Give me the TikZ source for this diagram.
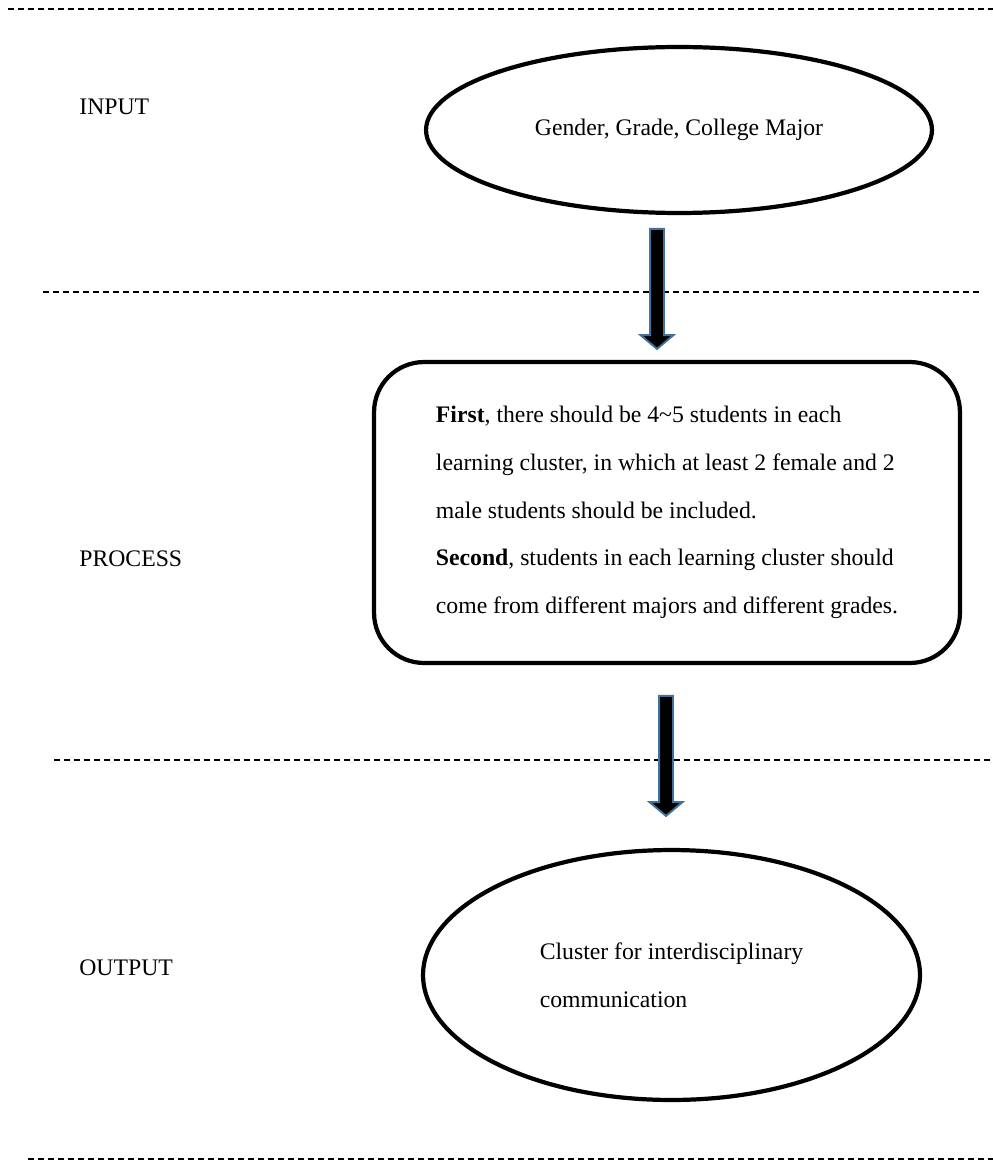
\documentclass[tikz,border=0pt]{standalone}
\usepackage{fontspec}
\setmainfont{Liberation Serif}
\usetikzlibrary{shapes.geometric, shapes.arrows}

\begin{document}
\begin{tikzpicture}[x=0.02cm,y=-0.02cm]
						\tikzstyle{oval} = [ellipse,draw=black,line width=2.4pt,fill=white,align=left,font=\fontsize{13.5}{27.2}\selectfont]
						\tikzstyle{procbox} = [rectangle,rounded corners=1cm,draw=black,line width=2.4pt,fill=white,align=left,font=\fontsize{13.5}{27.2}\selectfont]
						\tikzstyle{label} = [anchor=west,inner sep=0pt,font=\fontsize{13.5}{16}\selectfont]
						\tikzstyle{sep} = [line width=1.1pt,dash pattern=on 0.12cm off 0.08cm]
						\tikzstyle{blockarrow} = [single arrow,fill=black,draw={rgb,255:red,65;green,113;blue,156},line width=1.1pt,shape border rotate=270,single arrow head extend=0.19cm,inner sep=0.12cm,single arrow tip angle=100]
						\useasboundingbox (0,0) rectangle (993,1162);
						\draw[sep] (8,9)--(993,9);
						\draw[sep] (43,292)--(982,292);
						\draw[sep] (54,760)--(993,760);
						\draw[sep] (28,1159)--(993,1159);
						\node[label] (in) at (79,107) {INPUT};
						\node[label] (proc) at (79,559) {PROCESS};
						\node[label] (out) at (79,968) {OUTPUT};
						\node[oval,minimum width=10.12cm,minimum height=3.32cm] (n1) at (679,130) {Gender, Grade, College Major};
						\node[procbox,minimum width=11.72cm,minimum height=6.02cm] (n2) at (667,512.5) {\textbf{First}, there should be 4\textasciitilde5 students in each\\learning cluster, in which at least 2 female and 2\\male students should be included.\\\textbf{Second}, students in each learning cluster should\\come from different majors and different grades.};
						\node[oval,minimum width=9.94cm,minimum height=5cm] (n3) at (671.5,975) {Cluster for interdisciplinary\\communication};
						\node[blockarrow,minimum height=2.4cm] (a1) at (657,286) {};
						\node[blockarrow,minimum height=2.4cm] (a2) at (666,753) {};
						\end{tikzpicture}
\end{document}
